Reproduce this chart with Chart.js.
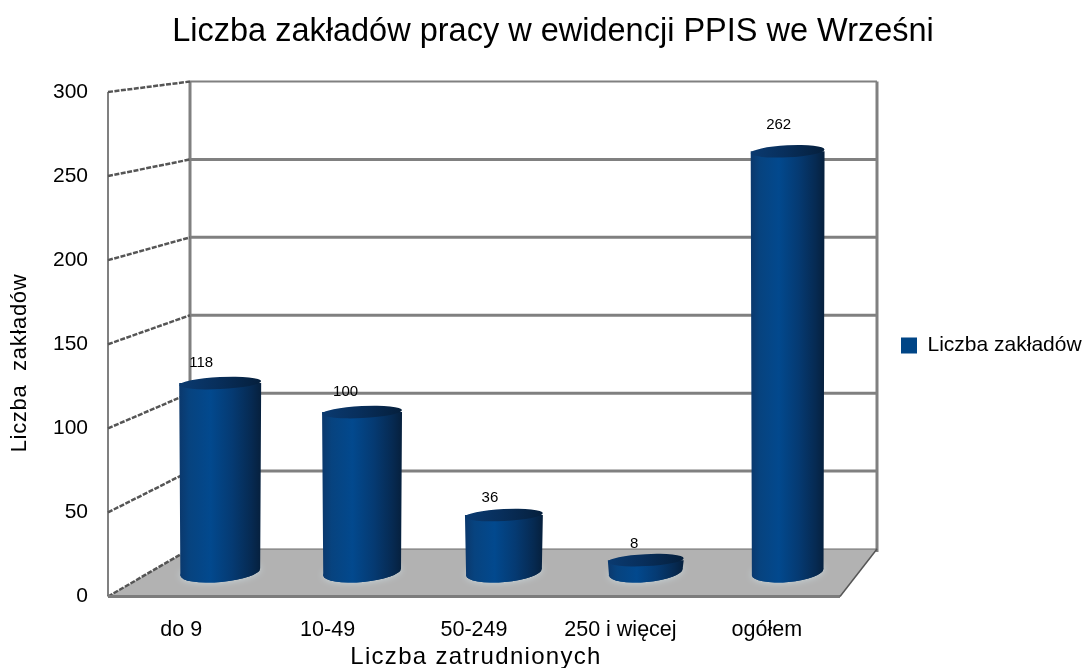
<!DOCTYPE html>
<html><head><meta charset="utf-8">
<style>html,body{margin:0;padding:0;background:#fff}canvas{display:block}</style>
<script src="https://cdn.jsdelivr.net/npm/chart.js@4"></script>
</head><body><canvas id="c" width="1085" height="668"></canvas>
<script>
const categories = ["do 9","10-49","50-249","250 i więcej","ogółem"];
const seriesName = "Liczba zakładów";
const seriesValues = [118,100,36,8,262];
const yTicks = [0,50,100,150,200,250,300];
const chartTitle = "Liczba zakładów pracy w ewidencji PPIS we Wrześni";
const xTitle = "Liczba zatrudnionych";
const yTitle = "Liczba  zakładów";

const FONT = '"Liberation Sans", Arial, sans-serif';
const LEGEND_FS = 21;
const cv = document.getElementById('c');
const m = cv.getContext('2d');
m.font = LEGEND_FS + 'px ' + FONT;
const legendW = 16 + LEGEND_FS/2 + m.measureText(seriesName).width;
const padRight = 1085 - 839 - legendW - 11;

const GRID = '#808080';
const scene = {
  id:'scene',
  afterLayout(ch){
    const l = ch.legend;
    const dx = 901 - l.left; const dy = 335 - l.top;
    l.left += dx; l.right += dx; l.top += dy; l.bottom += dy;
    ch.titleBlock.left = 21; ch.titleBlock.right = 1085;
  },
  beforeDatasetsDraw(ch){
    const c = ch.ctx, y = ch.scales.y, x = ch.scales.x;
    const depthY = 47.5, shrink = 467/504, backL = x.left + 82, backR = 877;
    const backY = v => (y.bottom - depthY) - (y.bottom - y.getPixelForValue(v))*shrink;
    c.save();
    c.fillStyle = '#b2b2b2';
    c.beginPath();
    c.moveTo(x.left, y.bottom); c.lineTo(x.right, y.bottom);
    c.lineTo(backR, backY(0)); c.lineTo(backL, backY(0)); c.closePath(); c.fill();
    c.strokeStyle = GRID; c.lineCap = 'butt';
    c.lineWidth = 2;
    c.beginPath(); c.moveTo(x.left, y.top); c.lineTo(x.left, y.bottom); c.stroke();
    c.lineWidth = 3;
    c.beginPath(); c.moveTo(backL, backY(300)); c.lineTo(backL, backY(0));
    c.moveTo(backR, backY(300)); c.lineTo(backR, backY(0)+3); c.stroke();
    yTicks.forEach(v => {
      const by = backY(v);
      if (v > 0) {
        c.strokeStyle = GRID; c.lineWidth = v === 300 ? 2 : 3;
        c.beginPath(); c.moveTo(backL, by); c.lineTo(backR, by); c.stroke();
      } else {
        c.strokeStyle = '#6a6a6a'; c.lineWidth = 1;
        c.beginPath(); c.moveTo(backL, by); c.lineTo(backR, by); c.stroke();
      }
      c.strokeStyle = '#555'; c.lineWidth = 2.5; c.setLineDash([5,1.5]);
      c.beginPath(); c.moveTo(x.left, y.getPixelForValue(v)); c.lineTo(backL, by); c.stroke();
      c.setLineDash([]);
    });
    c.strokeStyle = '#7c7c7c'; c.lineWidth = 3;
    c.beginPath(); c.moveTo(x.left, y.bottom); c.lineTo(x.right, y.bottom); c.stroke();
    c.strokeStyle = '#555'; c.lineWidth = 1.5;
    c.beginPath(); c.moveTo(x.right, y.bottom); c.lineTo(backR, backY(0)); c.stroke();
    c.restore();
  },
  beforeDatasetDraw(){ return false; },
  afterDatasetsDraw(ch){
    const c = ch.ctx, y = ch.scales.y, x = ch.scales.x;
    const meta = ch.getDatasetMeta(0);
    const ax = 0.969, bx = 44.6, ay = 0.957;
    const mapY = p => (y.bottom - 23.5) - (y.bottom - p)*ay;
    meta.data.forEach((el,i) => {
      const cx = ax*el.x + bx;
      const w = el.width * (1 - (cx-220)*0.000175);
      const rx = w/2, yt = mapY(el.y), yb = mapY(el.base) - 1;
      const g = c.createLinearGradient(cx-rx,0,cx+rx,0);
      g.addColorStop(0,'#0b386c'); g.addColorStop(.12,'#07437f'); g.addColorStop(.38,'#02498e');
      g.addColorStop(.65,'#053a72'); g.addColorStop(.88,'#062a52'); g.addColorStop(1,'#06203d');
      c.save();
      c.fillStyle = g;
      c.shadowColor = 'rgba(205,222,228,.9)'; c.shadowBlur = 7;
      c.beginPath();
      c.ellipse(cx,yb,rx-1,10,-0.09,0,Math.PI*2);
      c.fill();
      c.shadowColor = 'transparent'; c.shadowBlur = 0;
      c.beginPath();
      c.moveTo(cx-rx,yt); c.lineTo(cx+rx,yt);
      c.lineTo(cx+rx-1,yb-3.5);
      c.ellipse(cx,yb,rx-1,10,-0.09,0,Math.PI);
      c.closePath(); c.fill();
      const t = c.createLinearGradient(cx-rx,0,cx+rx,0);
      t.addColorStop(0,'#0a3a70'); t.addColorStop(.45,'#082f5c'); t.addColorStop(1,'#051f3c');
      c.fillStyle = t;
      c.beginPath(); c.ellipse(cx,yt,rx,6,-0.05,0,Math.PI*2); c.fill();
      c.fillStyle = '#000'; c.font = '15px ' + FONT;
      c.textAlign = 'center'; c.textBaseline = 'middle';
      const v = seriesValues[i];
      c.fillText(String(v), cx - 19 + (cx-220)*10/566, yt - 16 - v*0.04);
      c.restore();
    });
    c.save();
    c.fillStyle = '#000'; c.textAlign='center'; c.textBaseline='middle';
    c.font = '22px ' + FONT; c.letterSpacing = '0.7px';
    c.translate(20,363); c.rotate(-Math.PI/2);
    c.fillText(yTitle,0,0);
    c.restore();
    c.save();
    c.fillStyle = '#000'; c.textAlign='center'; c.textBaseline='middle';
    c.font = '24px ' + FONT; c.letterSpacing = '1.3px';
    c.fillText(xTitle,(x.left+x.right)/2 + 2,657);
    c.restore();
  }
};

new Chart(cv,{
  type:'bar',
  plugins:[scene],
  data:{labels:categories,datasets:[{label:seriesName,data:seriesValues,backgroundColor:'#004586',barPercentage:1,categoryPercentage:0.56}]},
  options:{
    responsive:false,animation:false,
    layout:{padding:{left:0,right:padRight,top:0,bottom:0}},
    plugins:{
      tooltip:{enabled:false},
      title:{display:true,text:chartTitle,color:'#000',font:{family:FONT,size:32.5,weight:'normal',lineHeight:1.2},padding:{top:13,bottom:40}},
      legend:{display:true,position:'right',align:'start',labels:{color:'#000',boxWidth:16,boxHeight:16,padding:0,font:{family:FONT,size:LEGEND_FS}}}
    },
    scales:{
      x:{
        grid:{display:false},border:{display:false},
        ticks:{color:'#000',padding:13,maxRotation:0,autoSkip:false,font:{family:FONT,size:21.5}},
        afterFit(s){s.height=71.5;}
      },
      y:{
        min:0,max:300,
        grid:{display:false},border:{display:false},
        afterBuildTicks(s){s.ticks=yTicks.map(v=>({value:v}));},
        ticks:{color:'#000',padding:12,font:{family:FONT,size:21}},
        afterFit(s){s.width=108;}
      }
    }
  }
});
</script></body></html>
